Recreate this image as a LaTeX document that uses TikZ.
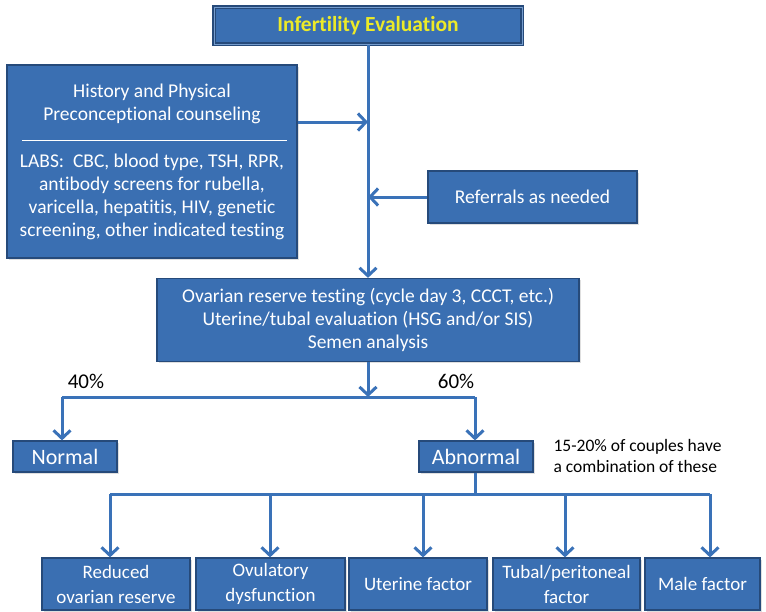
\documentclass[tikz,border=0pt]{standalone}
\usepackage{fontspec}
\setmainfont{Carlito}[Ligatures=NoCommon]
\usepackage{xcolor}
\usetikzlibrary{arrows.meta,positioning,shadows}

\definecolor{boxblue}{RGB}{58,111,178}
\definecolor{boxedge}{RGB}{38,74,122}
\definecolor{lineblue}{RGB}{58,114,184}
\definecolor{titleyellow}{RGB}{236,234,40}

\tikzset{
  box/.style={rectangle,draw=boxedge,line width=1.2pt,fill=boxblue,text=white,
    align=center,inner sep=2pt,font=\fontsize{19.5}{23}\selectfont,
    drop shadow={opacity=0.25,shadow xshift=1.5pt,shadow yshift=-1.5pt}},
  boxtext/.style={text=white,align=center,font=\fontsize{19.5}{23}\selectfont},
  bigbox/.style={box,font=\fontsize{22}{26}\selectfont},
  lowbox/.style={box,minimum height=52pt,font=\fontsize{19}{25}\selectfont},
  flow/.style={draw=lineblue,line width=3pt,-{Straight Barb[length=8pt,width=17pt]}},
  bus/.style={draw=lineblue,line width=3pt},
  pct/.style={font=\fontsize{21}{24}\selectfont}
}

\begin{document}
\begin{tikzpicture}[x=1pt,y=-1pt]
\useasboundingbox (0,0) rectangle (766,611);

% top of the chart
\node[box,draw=boxedge,line width=1.6pt,double=lineblue!70!white,double distance=1pt,
  minimum width=308pt,minimum height=37pt,text=titleyellow,font=\fontsize{21.5}{24}\selectfont\bfseries]
  (title) at (368,25.5) {Infertility Evaluation};

\node[box,minimum width=290pt,minimum height=193pt] (hist) at (152,161.5) {};
\node[boxtext] (histtxt) at (152,103.5) {History and Physical\\Preconceptional counseling};
\draw[white,line width=0.8pt] (22,140) -- (287,140);
\node[boxtext] (labs) at (152,197) {LABS:~ CBC, blood type, TSH, RPR,\\antibody screens for rubella,\\varicella, hepatitis, HIV, genetic\\screening, other indicated testing};

\node[box,minimum width=209pt,minimum height=52pt] (refer) at (532.5,197) {Referrals as needed};

\node[box,minimum width=422pt,minimum height=83pt] (ovar) at (368,320)
  {Ovarian reserve testing (cycle day 3, CCCT, etc.)\\Uterine/tubal evaluation (HSG and/or SIS)\\Semen analysis};

% main line with the side inputs
\coordinate (histin) at (title.south |- 0,122);
\coordinate (referin) at (title.south |- refer.west);
\draw[flow] (title.south) -- (ovar.north);
\draw[flow] (hist.east |- histin) -- (histin);
\draw[flow] (refer.west) -- (referin);

% split into normal / abnormal
\node[bigbox,minimum width=104pt,minimum height=31pt] (normal) at (65,456.5) {Normal};
\node[bigbox,minimum width=114pt,minimum height=31pt] (abnormal) at (476,456.5) {Abnormal};
\coordinate (split) at (ovar.south |- 0,397);
\coordinate (splitl) at (62,397);
\coordinate (splitr) at (475,397);
\draw[flow] (ovar.south) -- (split);
\draw[bus] (splitl) -- (splitr);
\draw[flow] (splitl) -- (splitl |- normal.north);
\draw[flow] (splitr) -- (splitr |- abnormal.north);
\node[pct] (forty) at (86,381) {40\%};
\node[pct] (sixty) at (456,381) {60\%};
\node[anchor=west,align=left,font=\fontsize{17.5}{21}\selectfont] (note) at (550,455.5)
  {15-20\% of couples have\\a combination of these};

% abnormal causes
\node[lowbox,minimum width=148pt] (ovres) at (116,584) {Reduced\\ovarian reserve};
\node[lowbox,minimum width=149pt] (ovul) at (270.5,584) {Ovulatory\\dysfunction};
\node[lowbox,minimum width=138pt] (uter) at (418,584) {Uterine factor};
\node[lowbox,minimum width=147pt] (tubal) at (566.5,584) {Tubal/peritoneal\\factor};
\node[lowbox,minimum width=115pt] (male) at (702.5,584) {Male factor};

\coordinate (busmid) at (abnormal.south -| splitr);
\coordinate (bus1) at (110,494);
\coordinate (bus2) at (270,494);
\coordinate (bus3) at (423,494);
\coordinate (bus4) at (565,494);
\coordinate (bus5) at (710,494);
\draw[bus] (busmid) -- (busmid |- bus1);
\draw[bus] (bus1) -- (bus5);
\draw[flow] (bus1) -- (bus1 |- ovres.north);
\draw[flow] (bus2) -- (bus2 |- ovul.north);
\draw[flow] (bus3) -- (bus3 |- uter.north);
\draw[flow] (bus4) -- (bus4 |- tubal.north);
\draw[flow] (bus5) -- (bus5 |- male.north);
\end{tikzpicture}
\end{document}
